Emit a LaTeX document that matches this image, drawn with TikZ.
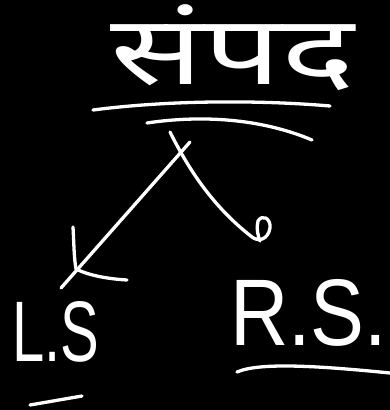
\documentclass[tikz,border=0pt]{standalone}
\usepackage{fontspec}
\setmainfont{Liberation Sans}
\newfontfamily\deva[Script=Devanagari]{Noto Sans}
\begin{document}
\begin{tikzpicture}[x=1pt,y=-1pt,
  pen/.style={draw=white,line width=3.3pt,line cap=round,line join=round},
  lbl/.style={text=white,inner sep=0pt}]
\fill[black] (0,0) rectangle (390,410);
\useasboundingbox (0,0) rectangle (390,410);
% title
\node[lbl,anchor=north west] (title) at (110,4) {\resizebox*{245pt}{86pt}{\deva संपद}};
% underlines of title
\coordinate (u1a) at (93,110); \coordinate (u1b) at (330,106);
\coordinate (u2a) at (147,123); \coordinate (u2b) at (312,140);
\draw[pen] (u1a) .. controls (170,100) and (260,100) .. (u1b);
\draw[pen] (u2a) .. controls (200,115) and (260,118) .. (u2b);
% branches
\coordinate (apex) at (190,142);
\coordinate (ltip) at (61,288);
\coordinate (rtop) at (170,132);
\coordinate (rend) at (252,237);
\draw[pen] (apex) -- (ltip);
\draw[pen] (73,227) .. controls (74,245) and (74,258) .. (76,269) .. controls (90,276) and (110,279) .. (127,280);
\draw[pen] (rtop) .. controls (188,168) and (212,206) .. (rend)
  .. controls (258,242) and (268,240) .. (270,228)
  .. controls (271,218) and (262,214) .. (258,221)
  .. controls (256,228) and (258,236) .. (260,241);
% labels
\node[lbl,anchor=south west] (LS) at (12,363) {\resizebox{87pt}{60pt}{L.S}};
\node[lbl,anchor=south west] (RS) at (230,347) {\resizebox{157pt}{66pt}{R.S.}};
% label underlines
\coordinate (lsa) at (30,405); \coordinate (lsb) at (82,396);
\draw[pen] (lsa) -- (lsb);
\coordinate (rsa) at (237,372); \coordinate (rsb) at (390,373);
\draw[pen] (rsa) .. controls (260,362) and (320,366) .. (rsb);
\end{tikzpicture}
\end{document}
